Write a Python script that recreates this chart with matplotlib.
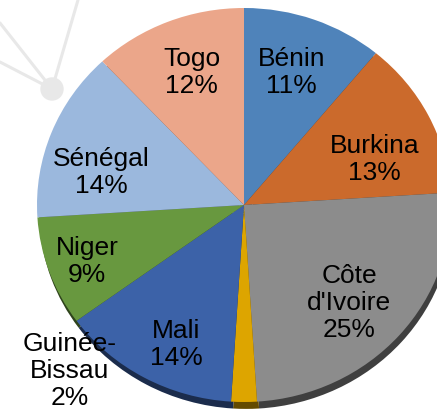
import numpy as np
import matplotlib
matplotlib.use("Agg")
import matplotlib.pyplot as plt
from matplotlib.colors import to_rgb

# slices, clockwise from 12 o'clock
countries = ["Bénin", "Burkina", "Côte\nd'Ivoire", "Guinée-\nBissau",
             "Mali", "Niger", "Sénégal", "Togo"]
shares = [11, 13, 25, 2, 14, 9, 14, 12]
colors = ["#4F83BA", "#CB6A2C", "#8C8C8C", "#DDA500",
          "#3C62A8", "#68983F", "#9BB8DD", "#EBA68A"]

# label placement: radius (fraction of pie) and angle nudge in degrees
lab_r = [0.71, 0.67, 0.71, 1.19, 0.78, 0.81, 0.71, 0.72]
lab_nudge = [-1, 7, 3, 45, -4, -1, -8, 1]

W, H = 437, 413
fig = plt.figure(figsize=(W / 100, H / 100), dpi=100)
fig.patch.set_facecolor("white")

# faint decoration in the top-left corner
deco = fig.add_axes([0, 0, 1, 1])
deco.set_xlim(0, W)
deco.set_ylim(H, 0)
deco.axis("off")
hub = (52, 89)
for end in [(0, 23), (0, 62), (78, 0)]:
    deco.plot([end[0], hub[0]], [end[1], hub[1]], color="#E8E8E8", lw=2.2,
              solid_capstyle="round")
deco.add_patch(plt.Circle(hub, 11, color="#E8E8E8"))

# pie axes: unit circle mapped to an ellipse (slightly tilted 3D look)
cx, cy, rx, ry = 244, 205, 207, 197
ax = fig.add_axes([(cx - rx) / W, (H - cy - ry) / H, 2 * rx / W, 2 * ry / H])

dark = [tuple(np.array(to_rgb(c)) * 0.45) for c in colors]
ax.pie(shares, colors=dark, startangle=90, counterclock=False,
       center=(0.01, -0.035), radius=1, frame=False,
       wedgeprops=dict(linewidth=0))
wedges, _ = ax.pie(shares, colors=colors, startangle=90, counterclock=False,
                   radius=1, frame=False, wedgeprops=dict(linewidth=0))
ax.set_xlim(-1, 1)
ax.set_ylim(-1, 1)
ax.set_aspect("auto")
ax.axis("off")
for p in ax.patches:
    p.set_clip_on(False)

# mid angle of each slice, measured clockwise from the top
mid = (np.cumsum(shares) - np.array(shares) / 2) / sum(shares) * 360
for name, s, m, r, dn in zip(countries, shares, mid, lab_r, lab_nudge):
    a = np.deg2rad(m + dn)
    ax.text(r * np.sin(a), r * np.cos(a), f"{name}\n{s}%", ha="center",
            va="center", fontsize=19, family="Liberation Sans", color="black",
            linespacing=1.15, clip_on=False)

fig.savefig("out.png", dpi=100)
